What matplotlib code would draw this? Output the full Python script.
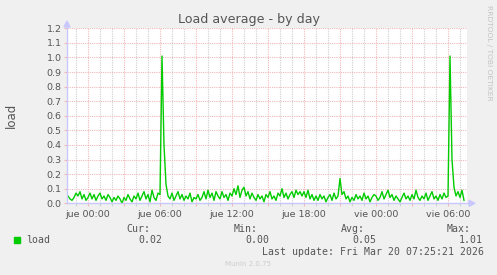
import pandas as pd
import matplotlib
matplotlib.use("Agg")
import matplotlib.pyplot as plt
import matplotlib.dates as mdates
from matplotlib.lines import Line2D
from matplotlib.patches import Polygon

# === data: load average, 10 minute samples ===
start_time = "2026-03-18 22:20"
load_values = [
    # mié 22:20 - 23:50
    0.05, 0.03, 0.02, 0.04, 0.07, 0.05, 0.08, 0.03, 0.06, 0.02,
    # jue 00 - 05
    0.04, 0.07, 0.03, 0.06, 0.02, 0.05,
    0.07, 0.03, 0.05, 0.02, 0.06, 0.04,
    0.01, 0.04, 0.02, 0.05, 0.03, 0.00,
    0.04, 0.02, 0.06, 0.03, 0.01, 0.05,
    0.03, 0.07, 0.02, 0.05, 0.08, 0.03,
    0.06, 0.01, 0.09, 0.04, 0.02, 0.07,
    # jue 06 - 11
    0.06, 1.01, 0.40, 0.13, 0.05, 0.03,
    0.07, 0.02, 0.05, 0.08, 0.03, 0.06,
    0.02, 0.05, 0.03, 0.07, 0.01, 0.04,
    0.03, 0.06, 0.02, 0.04, 0.08, 0.03,
    0.09, 0.04, 0.07, 0.02, 0.08, 0.05,
    0.03, 0.08, 0.04, 0.06, 0.02, 0.07,
    # jue 12 - 17
    0.05, 0.10, 0.06, 0.12, 0.04, 0.09,
    0.11, 0.05, 0.08, 0.03, 0.07, 0.04,
    0.02, 0.06, 0.03, 0.05, 0.01, 0.06,
    0.04, 0.08, 0.03, 0.05, 0.02, 0.07,
    0.05, 0.10, 0.04, 0.07, 0.03, 0.06,
    0.08, 0.04, 0.09, 0.06, 0.08, 0.05,
    # jue 18 - 23
    0.08, 0.04, 0.09, 0.03, 0.06, 0.02,
    0.05, 0.02, 0.06, 0.03, 0.05, 0.01,
    0.04, 0.06, 0.02, 0.07, 0.03, 0.05,
    0.17, 0.06, 0.08, 0.03, 0.05, 0.01,
    0.04, 0.02, 0.06, 0.03, 0.05, 0.02,
    0.07, 0.03, 0.05, 0.01, 0.04, 0.06,
    # vie 00 - 05
    0.05, 0.02, 0.04, 0.08, 0.03, 0.06,
    0.09, 0.04, 0.06, 0.02, 0.05, 0.03,
    0.01, 0.04, 0.07, 0.03, 0.05, 0.02,
    0.06, 0.03, 0.09, 0.04, 0.02, 0.05,
    0.03, 0.07, 0.02, 0.05, 0.08, 0.03,
    0.05, 0.02, 0.06, 0.03, 0.07, 0.04,
    # vie 06 - 07:20
    0.05, 1.01, 0.30, 0.11, 0.05, 0.08,
    0.04, 0.09, 0.02,
]
times = pd.date_range(start_time, periods=len(load_values), freq="10min")

y_ticks = [0.0, 0.1, 0.2, 0.3, 0.4, 0.5, 0.6, 0.7, 0.8, 0.9, 1.0, 1.1, 1.2]
day_names = ["lun", "mar", "mié", "jue", "vie", "sáb", "dom"]
legend_label = "load"
stat_headers = ["Cur:", "Min:", "Avg:", "Max:"]
stat_values = ["0.02", "0.00", "0.05", "1.01"]
last_update = "Last update: Fri Mar 20 07:25:21 2026"

# === figure layout in pixels ===
W, H = 497, 275
BG = "#F0F0F0"
TXT = "#555555"
LINE = "#00CC00"
AXIS = "#C8C8FF"
MGRID = "#F2B8B8"
GRID = "#D0D0D0"


def fx(x):
    return x / W


def fy(y):
    return 1 - y / H


fig = plt.figure(figsize=(W / 100, H / 100), dpi=100, facecolor=BG)
left, right, top, bottom = 67, 467, 28.3, 203.3
ax = fig.add_axes([fx(left), fy(bottom), (right - left) / W, (bottom - top) / H])
ax.set_facecolor("white")

ax.plot(times, load_values, color=LINE, linewidth=1.0, zorder=3)

ax.set_xlim(pd.Timestamp("2026-03-18 22:15"), pd.Timestamp("2026-03-20 07:35"))
ax.set_ylim(0, 1.2)
ax.set_yticks(y_ticks)
ax.set_yticklabels([f"{v:.1f}" for v in y_ticks])

ax.xaxis.set_major_locator(mdates.HourLocator(byhour=range(0, 24, 3)))
ax.xaxis.set_minor_locator(mdates.HourLocator())


def fmt_time(x, pos=None):
    d = mdates.num2date(x)
    if d.hour % 6:
        return ""
    return f"{day_names[d.weekday()]} {d:%H:%M}"


ax.xaxis.set_major_formatter(plt.FuncFormatter(fmt_time))

# grid
ax.grid(which="major", axis="both", color=MGRID, linestyle=(0, (1, 1)), linewidth=0.8, zorder=1)
ax.grid(which="minor", axis="x", color=GRID, linestyle=(0, (1, 1)), linewidth=0.8, zorder=1)
ax.set_axisbelow(True)

for s in ax.spines.values():
    s.set_visible(False)

ax.tick_params(axis="both", which="major", direction="out", length=2, width=0.8,
               color=MGRID, labelsize=6.8, labelcolor=TXT, pad=2)
ax.tick_params(axis="x", which="minor", direction="out", length=2, width=0.8, color=GRID)
ax.tick_params(axis="x", which="major", pad=2.5)

# axis lines with arrows
fig.add_artist(Line2D([fx(left), fx(left)], [fy(bottom), fy(26)], color=AXIS, linewidth=1))
fig.add_artist(Line2D([fx(left), fx(469)], [fy(bottom), fy(bottom)], color=AXIS, linewidth=1))
fig.add_artist(Polygon([(fx(67), fy(21)), (fx(64), fy(27)), (fx(70), fy(27))],
                       closed=True, color=AXIS))
fig.add_artist(Polygon([(fx(475), fy(bottom)), (fx(469), fy(bottom - 3)), (fx(469), fy(bottom + 3))],
                       closed=True, color=AXIS))

# titles
fig.text(fx(248.5), fy(19.5), "Load average - by day", ha="center", va="center",
         fontsize=9.1, color=TXT)
fig.text(fx(11), fy(115.8), "load", rotation=90, ha="center", va="center",
         fontsize=8.5, color=TXT)
fig.text(fx(488.5), fy(5), "RRDTOOL / TOBI OETIKER", rotation=270, ha="center", va="top",
         fontsize=5.4, color="#C4C4C4")

# legend
mono = "DejaVu Sans Mono"
fig.add_artist(Polygon([(fx(14), fy(237)), (fx(20), fy(237)), (fx(20), fy(243)), (fx(14), fy(243))],
                       closed=True, color=LINE))
fig.text(fx(26.5), fy(240), legend_label, ha="left", va="center", family=mono, fontsize=7.1, color=TXT)
header_x = [126.7, 233.3, 340.7, 446.7]
value_x = [138.5, 245.2, 352.7, 459.0]
for hx, vx, h, v in zip(header_x, value_x, stat_headers, stat_values):
    fig.text(fx(hx), fy(228.5), h, ha="left", va="center", family=mono, fontsize=7.1, color=TXT)
    fig.text(fx(vx), fy(240), v, ha="left", va="center", family=mono, fontsize=7.1, color=TXT)
fig.text(fx(261.7), fy(252), last_update, ha="left", va="center", family=mono,
         fontsize=7.1, color=TXT)
fig.text(fx(248), fy(263.5), "Munin 2.0.75", ha="center", va="center", fontsize=5.0,
         color="#CCCCCC")

fig.savefig("out.png", dpi=100, facecolor=BG)
